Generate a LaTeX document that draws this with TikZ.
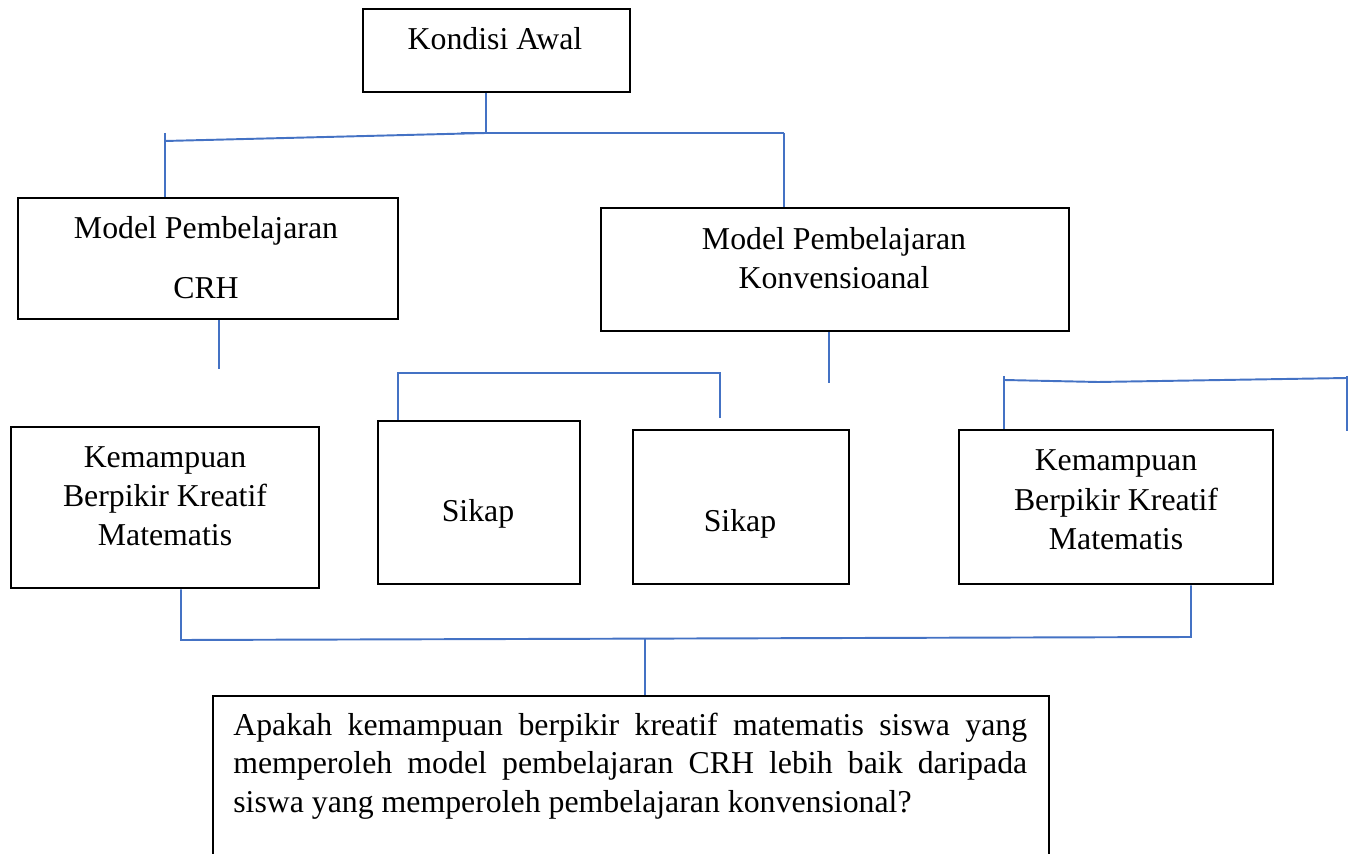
\documentclass[tikz,border=0pt]{standalone}
\usepackage{fontspec}
\setmainfont{Liberation Serif}
\definecolor{linkblue}{HTML}{4472C4}
\tikzset{
  box/.style={draw=black, line width=1.4pt, inner sep=0pt, anchor=north west, fill=none},
  lbl/.style={font=\fontsize{18.1}{22}\selectfont, inner sep=0pt, anchor=base},
  lblw/.style={font=\fontsize{18.1}{22}\selectfont, inner sep=0pt, anchor=base west},
  link/.style={draw=linkblue, line width=1.1pt},
}
\begin{document}
\begin{tikzpicture}[x=0.02cm, y=-0.02cm]
\useasboundingbox (0,0) rectangle (1350,854);
\path[clip] (0,0) rectangle (1350,854);
% boxes
\node[box, minimum width=5.34cm, minimum height=1.66cm] (awal) at (362,8) {};
\node[box, minimum width=7.6cm, minimum height=2.42cm] (crh) at (17,197) {};
\node[box, minimum width=9.36cm, minimum height=2.46cm] (konv) at (600,207) {};
\node[box, minimum width=6.16cm, minimum height=3.22cm] (kbkm1) at (10,426) {};
\node[box, minimum width=4.04cm, minimum height=3.26cm] (sikap1) at (377,420) {};
\node[box, minimum width=4.32cm, minimum height=3.08cm] (sikap2) at (632,429) {};
\node[box, minimum width=6.28cm, minimum height=3.08cm] (kbkm2) at (958,429) {};
\node[box, minimum width=16.72cm, minimum height=3.8cm] (quest) at (212,695) {};
% texts
\node[lbl] (tawal) at (495,50) {Kondisi Awal};
\node[lbl] (tcrh1) at (206,239) {Model Pembelajaran};
\node[lbl] (tcrh2) at (206,299) {CRH};
\node[lbl] (tkonv1) at (834,250) {Model Pembelajaran};
\node[lbl] (tkonv2) at (834,289) {Konvensioanal};
\node[lbl] (tk1a) at (165,468) {Kemampuan};
\node[lbl] (tk1b) at (165,507) {Berpikir Kreatif};
\node[lbl] (tk1c) at (165,546) {Matematis};
\node[lbl] (ts1) at (478,522) {Sikap};
\node[lbl] (ts2) at (740,532) {Sikap};
\node[lbl] (tk2a) at (1116,471) {Kemampuan};
\node[lbl] (tk2b) at (1116,511) {Berpikir Kreatif};
\node[lbl] (tk2c) at (1116,550) {Matematis};
\node[lblw] (q1) at (233,736) {\makebox[15.88cm][s]{Apakah kemampuan berpikir kreatif matematis siswa yang}};
\node[lblw] (q2) at (233,774) {\makebox[15.88cm][s]{memperoleh model pembelajaran CRH lebih baik daripada}};
\node[lblw] (q3) at (233,813) {siswa yang memperoleh pembelajaran konvensional?};
% connectors top
\coordinate (t1) at (486,133);
\coordinate (tL) at (165,141);
\coordinate (tL0) at (165,133);
\coordinate (tM) at (461,133);
\coordinate (tR) at (784,133);
\draw[link] (awal.south -| t1) -- (t1);
\draw[link] (tL) -- (t1);
\draw[link] (tM) -- (tR);
\draw[link] (tL0) -- (crh.north -| tL0);
\draw[link] (tR) -- (konv.north -| tR);
% middle
\coordinate (c1) at (219,369);
\draw[link] (crh.south -| c1) -- (c1);
\coordinate (c2) at (829,383);
\draw[link] (konv.south -| c2) -- (c2);
\coordinate (s1) at (398,373);
\coordinate (s2) at (720,373);
\coordinate (s2b) at (720,418);
\draw[link] (sikap1.north -| s1) -- (s1) -- (s2) -- (s2b);
\coordinate (r1t) at (1004,376);
\coordinate (r1) at (1004,380);
\coordinate (rm) at (1098,382);
\coordinate (r2) at (1347,378);
\coordinate (r2t) at (1347,376);
\coordinate (r2b) at (1347,431);
\draw[link] (r1t) -- (kbkm2.north -| r1t);
\draw[link] (r1) -- (rm) -- (r2);
\draw[link] (r2t) -- (r2b);
% bottom
\coordinate (bL) at (181,640);
\coordinate (bR) at (1191,637);
\coordinate (bM) at (645,639);
\draw[link] (kbkm1.south -| bL) -- (bL) -- (bR) -- (kbkm2.south -| bR);
\draw[link] (bM) -- (quest.north -| bM);
\end{tikzpicture}
\end{document}
